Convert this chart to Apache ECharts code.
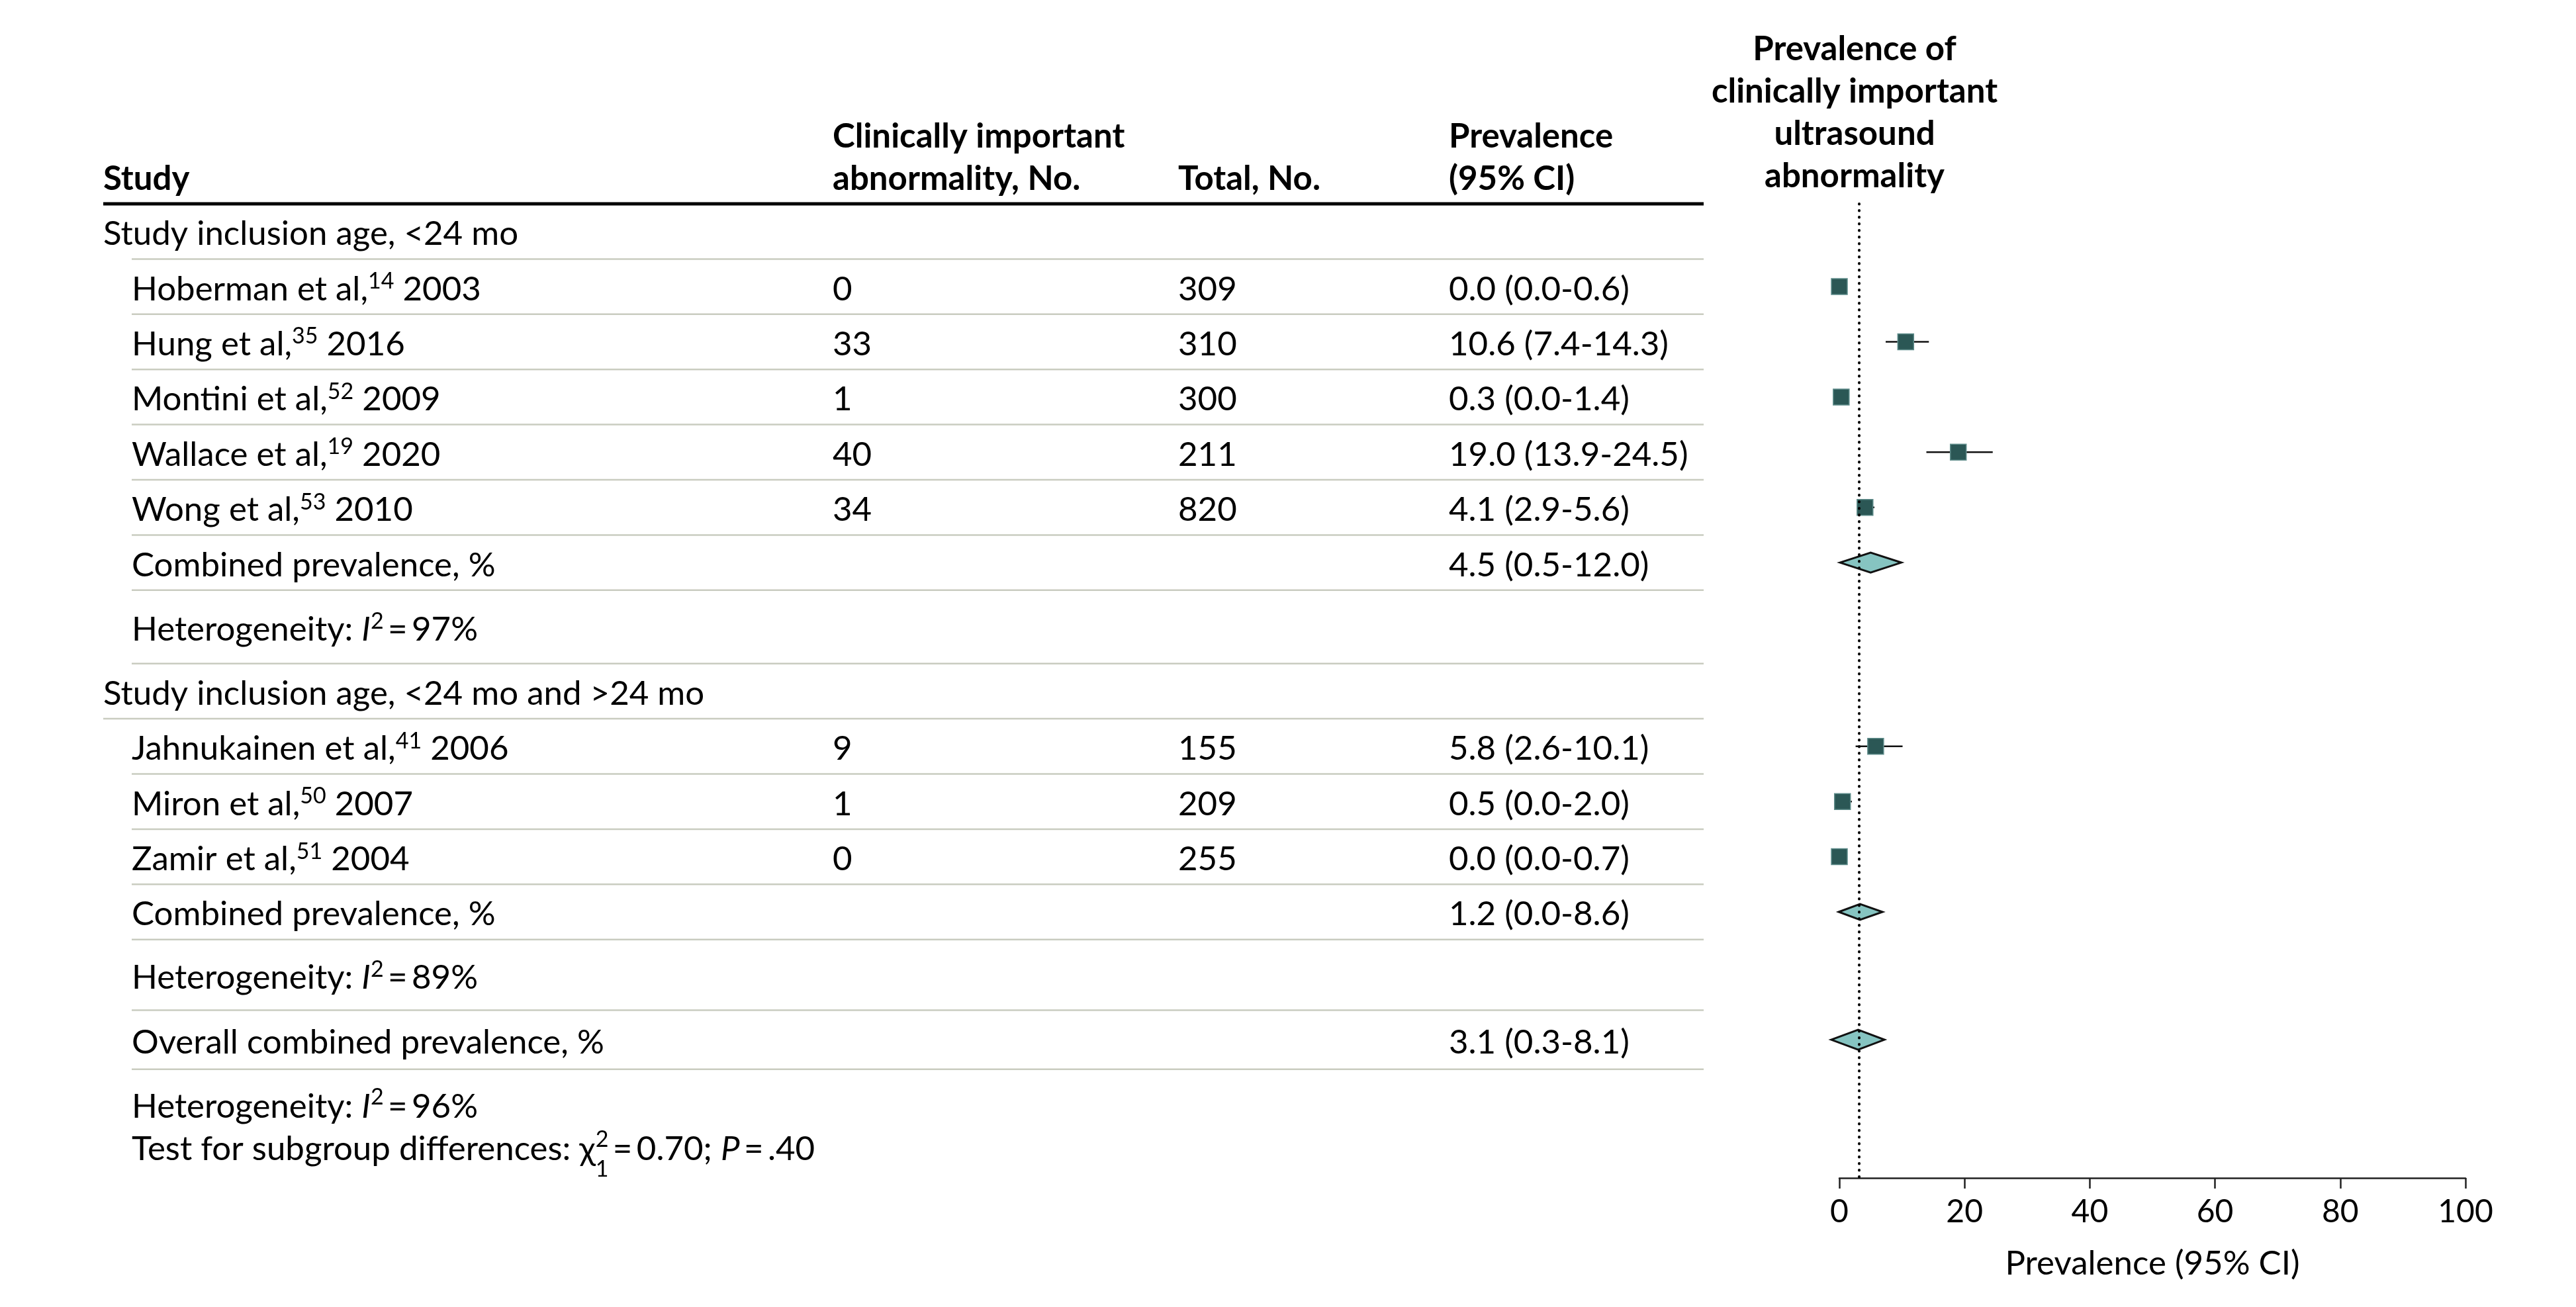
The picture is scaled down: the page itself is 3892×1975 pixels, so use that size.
<!DOCTYPE html>
<html>
<head>
<meta charset="utf-8">
<title>Prevalence of clinically important ultrasound abnormality</title>
<script src="https://cdn.jsdelivr.net/npm/echarts@6.0.0/dist/echarts.min.js"></script>
<style>
  html, body { margin: 0; padding: 0; background: #fff; }
  #forest { width: 3892px; height: 1975px; }
</style>
</head>
<body>
<div id="forest"></div>
<script>
// ---- data ----
var groupLabels = ['Study inclusion age, <24 mo', 'Study inclusion age, <24 mo and >24 mo'];
var studyAuthors = ['Hoberman et al,', 'Hung et al,', 'Montini et al,', 'Wallace et al,', 'Wong et al,',
    'Jahnukainen et al,', 'Miron et al,', 'Zamir et al,'];
var studyRefs = ['14', '35', '52', '19', '53', '41', '50', '51'];
var studyYears = ['2003', '2016', '2009', '2020', '2010', '2006', '2007', '2004'];
var studyGroup = [0, 0, 0, 0, 0, 1, 1, 1];
var studyEvents = [0, 33, 1, 40, 34, 9, 1, 0];
var studyTotals = [309, 310, 300, 211, 820, 155, 209, 255];
var studyEst = [0.0, 10.6, 0.3, 19.0, 4.1, 5.8, 0.5, 0.0];
var studyLow = [0.0, 7.4, 0.0, 13.9, 2.9, 2.6, 0.0, 0.0];
var studyHigh = [0.6, 14.3, 1.4, 24.5, 5.6, 10.1, 2.0, 0.7];
var pooledLabels = ['Combined prevalence, %', 'Combined prevalence, %', 'Overall combined prevalence, %'];
var pooledEst = [4.5, 1.2, 3.1];
var pooledLow = [0.5, 0.0, 0.3];
var pooledHigh = [12.0, 8.6, 8.1];
// the diamonds as they sit on the plot (read off the axis, not the table)
var diamondLow = [0.1, -0.1, -1.3];
var diamondMid = [5.0, 3.3, 3.0];
var diamondHigh = [9.9, 6.9, 7.2];
var heterogeneityI2 = [97, 89, 96];
var subgroupChi2 = '0.70';
var subgroupDf = '1';
var subgroupP = '.40';
var axisTicks = [0, 20, 40, 60, 80, 100];
var axisTitle = 'Prevalence (95% CI)';
var plotTitle = 'Prevalence of\nclinically important\nultrasound\nabnormality';

// ---- layout / style ----
var FONT = "Lato, 'Liberation Sans', sans-serif";
var BODY = 51, BOLD = 51, SMALL = 34;
var TEXT_DY = 4;
var GRID_TOP = 308, GRID_H = 1472, Y_MAX = 17.65;
var TABLE_LEFT = 156, TABLE_W = 2418;
var PLOT_LEFT = 2779, PLOT_W = 946;
var COL = { group: 0, item: 43, events: 1102, total: 1624, prev: 2033, end: 2418 };
var DIAMOND_HALF = [15, 12, 15];
var SQUARE = 24;

var RICH = {
    sup: { fontFamily: FONT, fontSize: SMALL, height: 36, verticalAlign: 'top', fill: '#000' },
    sub: { fontFamily: FONT, fontSize: SMALL, height: 2, verticalAlign: 'bottom', width: 0, fill: '#000' },
    it: { fontFamily: FONT, fontSize: BODY, fontStyle: 'italic', fill: '#000' }
};

function ci(est, lo, hi) {
    return est.toFixed(1) + ' (' + lo.toFixed(1) + '-' + hi.toFixed(1) + ')';
}
function hetText(v) {
    return 'Heterogeneity: {it|I}{sup|2}\u2009=\u2009' + v + '%';
}
var testText = 'Test for subgroup differences: \u03c7{sub|' + subgroupDf + '}{sup|2}\u2009=\u2009' +
    subgroupChi2 + '; {it|P}\u2009=\u2009' + subgroupP;

// row table, in row units along the y axis
var rows = [];
var yCur = 0;
function addRow(r, h) {
    r.y = yCur + h / 2;
    yCur += h;
    r.bottom = yCur;
    rows.push(r);
    return rows.length - 1;
}
var studyRow = [], pooledRow = [];
groupLabels.forEach(function (g, gi) {
    addRow({ label: g, x: COL.group, line: gi === 1 ? COL.group : COL.item }, 1);
    studyAuthors.forEach(function (a, si) {
        if (studyGroup[si] !== gi) return;
        studyRow[si] = addRow({
            label: a + '{sup|' + studyRefs[si] + '} ' + studyYears[si], x: COL.item, line: COL.item,
            events: String(studyEvents[si]), total: String(studyTotals[si]),
            prev: ci(studyEst[si], studyLow[si], studyHigh[si])
        }, 1);
    });
    pooledRow[gi] = addRow({ label: pooledLabels[gi], x: COL.item, line: COL.item,
        prev: ci(pooledEst[gi], pooledLow[gi], pooledHigh[gi]) }, 1);
    addRow({ label: hetText(heterogeneityI2[gi]), x: COL.item, line: COL.item }, gi === 0 ? 1.33 : 1.28);
});
pooledRow[2] = addRow({ label: pooledLabels[2], x: COL.item, line: COL.item,
    prev: ci(pooledEst[2], pooledLow[2], pooledHigh[2]) }, 1.07);
addRow({ label: hetText(heterogeneityI2[2]) + '\n' + testText, x: COL.item, line: null, lh: 64 }, 2.03);

function textEl(text, p, extra) {
    var s = {
        text: text, x: p[0], y: p[1] + TEXT_DY, fill: '#000', fontFamily: FONT, fontSize: BODY,
        align: 'left', verticalAlign: 'middle', lineHeight: 60
    };
    for (var k in extra) s[k] = extra[k];
    return { type: 'text', style: s };
}

var chart = echarts.init(document.getElementById('forest'));

var headStyle = { fontFamily: FONT, fontSize: BOLD, fontWeight: 'bold', fill: '#000', verticalAlign: 'middle', lineHeight: 64 };
function head(text, x, y, align) {
    var s = { text: text };
    for (var k in headStyle) s[k] = headStyle[k];
    if (align) s.align = align;
    return { type: 'text', x: x, y: y, style: s };
}

var option = {
    animation: false,
    backgroundColor: '#fff',
    grid: [
        { left: TABLE_LEFT, top: GRID_TOP, width: TABLE_W, height: GRID_H, outerBoundsMode: 'none' },
        { left: PLOT_LEFT, top: GRID_TOP, width: PLOT_W, height: GRID_H, outerBoundsMode: 'none' }
    ],
    xAxis: [
        { gridIndex: 0, type: 'value', min: 0, max: TABLE_W, show: false },
        {
            gridIndex: 1, type: 'value',
            min: axisTicks[0], max: axisTicks[axisTicks.length - 1], interval: axisTicks[1] - axisTicks[0],
            axisLine: { show: true, onZero: false, lineStyle: { color: '#222', width: 2.5 } },
            axisTick: { show: true, length: 16, lineStyle: { color: '#222', width: 2.5 } },
            axisLabel: { fontFamily: FONT, fontSize: 48, color: '#000', margin: 28 },
            splitLine: { show: false },
            name: axisTitle, nameLocation: 'middle', nameGap: 104,
            nameTextStyle: { fontFamily: FONT, fontSize: 51, color: '#000' }
        }
    ],
    yAxis: [
        { gridIndex: 0, type: 'value', inverse: true, min: 0, max: Y_MAX, show: false },
        { gridIndex: 1, type: 'value', inverse: true, min: 0, max: Y_MAX, show: false }
    ],
    graphic: [
        head('Study', TABLE_LEFT, 271),
        head('Clinically important\nabnormality, No.', TABLE_LEFT + COL.events, 239),
        head('Total, No.', TABLE_LEFT + COL.total, 271),
        head('Prevalence\n(95% CI)', TABLE_LEFT + COL.prev, 239),
        head(plotTitle, 2802, 171, 'center')
    ],
    series: [
        {
            // table text and rules
            type: 'custom',
            xAxisIndex: 0, yAxisIndex: 0,
            data: rows.map(function (r, i) { return [0, r.y, i]; }),
            encode: { x: 0, y: 1 },
            silent: true,
            renderItem: function (params, api) {
                var r = rows[api.value(2)];
                var kids = [];
                var extra = { rich: RICH };
                if (r.lh) extra.lineHeight = r.lh;
                kids.push(textEl(r.label, api.coord([r.x, r.y]), extra));
                if (r.events != null) kids.push(textEl(r.events, api.coord([COL.events, r.y]), {}));
                if (r.total != null) kids.push(textEl(r.total, api.coord([COL.total, r.y]), {}));
                if (r.prev != null) kids.push(textEl(r.prev, api.coord([COL.prev, r.y]), {}));
                if (r.line != null) {
                    var a = api.coord([r.line, r.bottom]), b = api.coord([COL.end, r.bottom]);
                    kids.push({ type: 'line', shape: { x1: a[0], y1: a[1], x2: b[0], y2: b[1] },
                        style: { stroke: '#c9ccc0', lineWidth: 2.5 } });
                }
                if (api.value(2) === 0) {
                    var t0 = api.coord([COL.group, 0]), t1 = api.coord([COL.end, 0]);
                    kids.push({ type: 'line', shape: { x1: t0[0], y1: t0[1], x2: t1[0], y2: t1[1] },
                        style: { stroke: '#000', lineWidth: 5 } });
                }
                return { type: 'group', children: kids };
            }
        },
        {
            // confidence interval whiskers
            type: 'custom',
            xAxisIndex: 1, yAxisIndex: 1,
            data: studyEst.map(function (e, i) { return [studyLow[i], studyHigh[i], rows[studyRow[i]].y]; }),
            encode: { x: [0, 1], y: 2 },
            silent: true,
            renderItem: function (params, api) {
                var a = api.coord([api.value(0), api.value(2)]);
                var b = api.coord([api.value(1), api.value(2)]);
                return { type: 'line', shape: { x1: a[0], y1: a[1], x2: b[0], y2: b[1] },
                    style: { stroke: '#111', lineWidth: 2.5 } };
            }
        },
        {
            // study estimates
            type: 'scatter',
            xAxisIndex: 1, yAxisIndex: 1,
            symbol: 'rect',
            symbolSize: SQUARE,
            itemStyle: { color: '#2b5755', borderColor: '#5e8c8a', borderWidth: 1.5, opacity: 1 },
            data: studyEst.map(function (e, i) { return [e, rows[studyRow[i]].y]; }),
            silent: true,
            markLine: {
                silent: true,
                symbol: 'none',
                label: { show: false },
                lineStyle: { color: '#000', width: 4, type: [0.5, 9.5], cap: 'round' },
                data: [{ xAxis: pooledEst[2] }]
            },
            z: 3
        },
        {
            // pooled estimates
            type: 'custom',
            xAxisIndex: 1, yAxisIndex: 1,
            data: diamondMid.map(function (m, i) { return [diamondLow[i], m, diamondHigh[i], rows[pooledRow[i]].y, i]; }),
            encode: { x: [0, 2], y: 3 },
            silent: true,
            z: 4,
            renderItem: function (params, api) {
                var y = api.value(3);
                var h = DIAMOND_HALF[api.value(4)];
                var l = api.coord([api.value(0), y]);
                var c = api.coord([api.value(1), y]);
                var r = api.coord([api.value(2), y]);
                return {
                    type: 'polygon',
                    shape: { points: [[l[0], l[1]], [c[0], c[1] - h], [r[0], r[1]], [c[0], c[1] + h]] },
                    style: { fill: '#86c4c1', stroke: '#111', lineWidth: 3, lineJoin: 'miter' }
                };
            }
        }
    ]
};

chart.setOption(option);
</script>
</body>
</html>
